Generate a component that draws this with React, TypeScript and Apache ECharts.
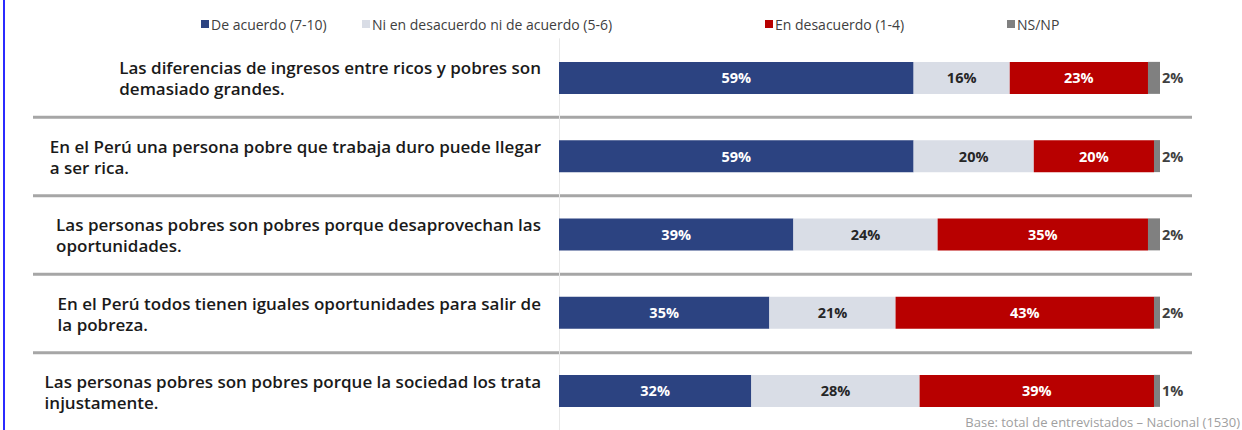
import React, { useEffect, useRef } from "react";
import * as echarts from "echarts";

const statements: string[][] = [
  ["Las diferencias de ingresos entre ricos y pobres son", "demasiado grandes."],
  ["En el Perú una persona pobre que trabaja duro puede llegar", "a ser rica."],
  ["Las personas pobres son pobres porque desaprovechan las", "oportunidades."],
  ["En el Perú todos tienen iguales oportunidades para salir de", "la pobreza."],
  ["Las personas pobres son pobres porque la sociedad los trata", "injustamente."],
];
const categories = ["S1", "S2", "S3", "S4", "S5"];
const seriesNames = [
  "De acuerdo (7-10)",
  "Ni en desacuerdo ni de acuerdo (5-6)",
  "En desacuerdo (1-4)",
  "NS/NP",
];
const deAcuerdo = [59, 59, 39, 35, 32];
const niNi = [16, 20, 24, 21, 28];
const enDesacuerdo = [23, 20, 35, 43, 39];
const nsnp = [2, 2, 2, 2, 1];
const footnote = "Base: total de entrevistados – Nacional (1530)";

const COLORS = ["#2c4381", "#d9dde6", "#b80000", "#808080"];
const LABEL_COLORS = ["#ffffff", "#262626", "#ffffff", "#404040"];

export default function App() {
  const ref = useRef<HTMLDivElement>(null);
  useEffect(() => {
    if (!ref.current) return;
    const chart = echarts.init(ref.current, undefined, { renderer: "svg" });
    const gridLeft = 559;
    const gridWidth = 601;
    const gridTop = 38.75;
    const gridHeight = 392.5;
    const band = gridHeight / categories.length;

    const labelFont = "600 17px 'Open Sans'";
    const ctx = document.createElement("canvas").getContext("2d")!;
    ctx.font = labelFont;
    const labelRight = 541;

    const values = [deAcuerdo, niNi, enDesacuerdo, nsnp];

    const graphics: any[] = [
      { type: "rect", shape: { x: 3, y: 0, width: 2, height: 430 }, style: { fill: "#2b2bff" }, silent: true },
    ];
    for (let i = 1; i < categories.length; i++) {
      const y = gridTop + band * i;
      graphics.push({
        type: "line",
        shape: { x1: 33, y1: y, x2: 1192, y2: y },
        style: { stroke: "#a6a6a6", lineWidth: 3 },
        silent: true,
      });
    }
    statements.forEach((lines, i) => {
      const wmax = Math.max(...lines.map((l) => ctx.measureText(l).width));
      graphics.push({
        type: "text",
        x: labelRight - wmax,
        y: gridTop + band * (i + 0.5),
        style: {
          text: lines.join("\n"),
          font: labelFont,
          fill: "#1a1a1a",
          align: "left",
          verticalAlign: "middle",
          lineHeight: 21,
        },
        silent: true,
      });
    });
    graphics.push({
      type: "text",
      right: 2,
      top: 415,
      style: { text: footnote, font: "13px 'Open Sans'", fill: "#a0a0a0" },
      silent: true,
    });

    const legendLefts = [201, 362, 765, 1007];

    chart.setOption({
      animation: false,
      backgroundColor: "#ffffff",
      legend: seriesNames.map((n, i) => ({
        data: [n],
        left: legendLefts[i],
        top: 17,
        padding: 0,
        icon: "rect",
        itemWidth: 8,
        itemHeight: 8,
        itemGap: 4,
        textStyle: { fontFamily: "Open Sans", fontSize: 14, color: "#404040", padding: [0, 0, 0, -3] },
        selectedMode: false,
      })),
      grid: { left: gridLeft, width: gridWidth, top: gridTop, height: gridHeight },
      xAxis: { type: "value", min: 0, max: 100, show: false },
      yAxis: {
        type: "category",
        data: categories,
        inverse: true,
        axisLabel: { show: false },
        axisTick: { show: false },
        axisLine: { show: true, lineStyle: { color: "#e8e8e8", width: 1 } },
      },
      series: seriesNames.map((n, i) => ({
        name: n,
        type: "bar",
        stack: "total",
        barWidth: 32,
        data: values[i],
        itemStyle: { color: COLORS[i] },
        label: {
          show: true,
          position: i === 3 ? "right" : "inside",
          distance: 2,
          formatter: "{c}%",
          color: LABEL_COLORS[i],
          fontFamily: "Open Sans",
          fontWeight: "bold",
          fontSize: 14.5,
        },
      })),
      graphic: graphics,
    });
    return () => chart.dispose();
  }, []);
  return (
    <div
      ref={ref}
      style={{ position: "absolute", left: 0, top: 0, width: 1242, height: 430 }}
    />
  );
}
